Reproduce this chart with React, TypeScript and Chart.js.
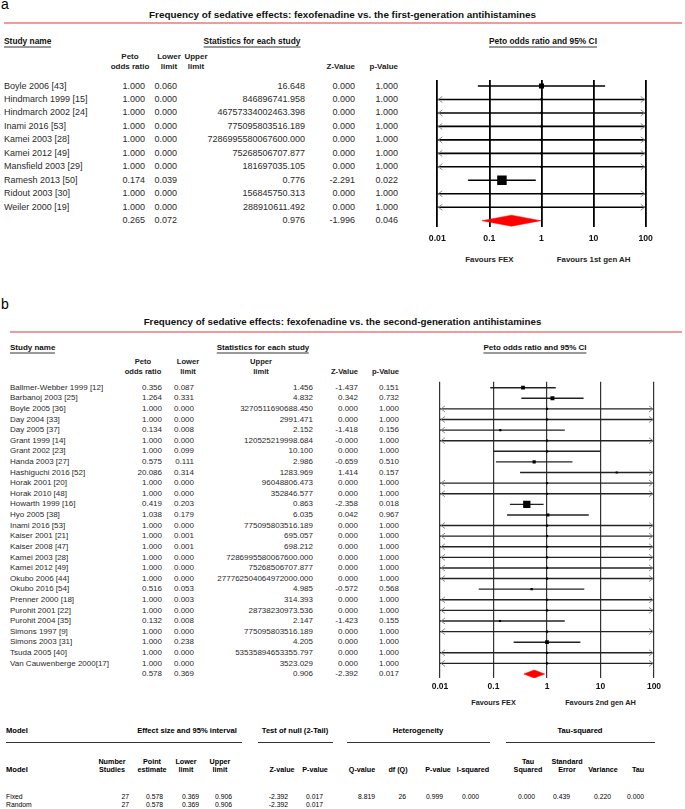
import React, { useEffect, useRef } from "react";
import { Chart, registerables } from "chart.js";

Chart.register(...registerables);

const SANS = "'Liberation Sans', Arial, Helvetica, sans-serif";
const NARROW = "'Liberation Sans Narrow', 'Arial Narrow', 'Liberation Sans', sans-serif";

const AXIS_MIN = 0.01;
const AXIS_MAX = 100;
const AXIS_TICKS = [0.01, 0.1, 1, 10, 100];

// ---------------- Panel a ----------------
const titleA = "Frequency of sedative effects: fexofenadine vs. the first-generation antihistamines";
const studiesA = [
  "Boyle 2006 [43]", "Hindmarch 1999 [15]", "Hindmarch 2002 [24]", "Inami 2016 [53]", "Kamei 2003 [28]",
  "Kamei 2012 [49]", "Mansfield 2003 [29]", "Ramesh 2013 [50]", "Ridout 2003 [30]", "Weiler 2000 [19]",
];
const oddsA = ["1.000", "1.000", "1.000", "1.000", "1.000", "1.000", "1.000", "0.174", "1.000", "1.000"];
const lowerA = ["0.060", "0.000", "0.000", "0.000", "0.000", "0.000", "0.000", "0.039", "0.000", "0.000"];
const upperA = [
  "16.648", "846896741.958", "46757334002463.398", "775095803516.189", "7286995580067600.000",
  "75268506707.877", "181697035.105", "0.776", "156845750.313", "288910611.492",
];
const zA = ["0.000", "0.000", "0.000", "0.000", "0.000", "0.000", "0.000", "-2.291", "0.000", "0.000"];
const pA = ["1.000", "1.000", "1.000", "1.000", "1.000", "1.000", "1.000", "0.022", "1.000", "1.000"];
const summaryA = ["0.265", "0.072", "0.976", "-1.996", "0.046"];
const favoursA = ["Favours FEX", "Favours 1st gen AH"];

// ---------------- Panel b ----------------
const titleB = "Frequency of sedative effects: fexofenadine vs. the second-generation antihistamines";
const studiesB = [
  "Ballmer-Webber 1999 [12]", "Barbanoj 2003 [25]", "Boyle 2005 [36]", "Day 2004 [33]", "Day 2005 [37]",
  "Grant 1999 [14]", "Grant 2002 [23]", "Handa 2003 [27]", "Hashiguchi 2016 [52]", "Horak 2001 [20]",
  "Horak 2010 [48]", "Howarth 1999 [16]", "Hyo 2005 [38]", "Inami 2016 [53]", "Kaiser 2001 [21]",
  "Kaiser 2008 [47]", "Kamei 2003 [28]", "Kamei 2012 [49]", "Okubo 2006 [44]", "Okubo 2016 [54]",
  "Prenner 2000 [18]", "Purohit 2001 [22]", "Purohit 2004 [35]", "Simons 1997 [9]", "Simons 2003 [31]",
  "Tsuda 2005 [40]", "Van Cauwenberge 2000[17]",
];
const oddsB = [
  "0.356", "1.264", "1.000", "1.000", "0.134", "1.000", "1.000", "0.575", "20.086", "1.000",
  "1.000", "0.419", "1.038", "1.000", "1.000", "1.000", "1.000", "1.000", "1.000", "0.516",
  "1.000", "1.000", "0.132", "1.000", "1.000", "1.000", "1.000",
];
const lowerB = [
  "0.087", "0.331", "0.000", "0.000", "0.008", "0.000", "0.099", "0.111", "0.314", "0.000",
  "0.000", "0.203", "0.179", "0.000", "0.001", "0.001", "0.000", "0.000", "0.000", "0.053",
  "0.003", "0.000", "0.008", "0.000", "0.238", "0.000", "0.000",
];
const upperB = [
  "1.456", "4.832", "3270511690688.450", "2991.471", "2.152", "120525219998.684", "10.100", "2.986",
  "1283.969", "96048806.473", "352846.577", "0.863", "6.035", "775095803516.189", "695.057", "698.212",
  "7286995580067600.000", "75268506707.877", "277762504064972000.000", "4.985", "314.393",
  "28738230973.536", "2.147", "775095803516.189", "4.205", "53535894653355.797", "3523.029",
];
const zB = [
  "-1.437", "0.342", "0.000", "0.000", "-1.418", "-0.000", "0.000", "-0.659", "1.414", "0.000",
  "0.000", "-2.358", "0.042", "0.000", "0.000", "0.000", "0.000", "0.000", "0.000", "-0.572",
  "0.000", "0.000", "-1.423", "0.000", "0.000", "0.000", "0.000",
];
const pB = [
  "0.151", "0.732", "1.000", "1.000", "0.156", "1.000", "1.000", "0.510", "0.157", "1.000",
  "1.000", "0.018", "0.967", "1.000", "1.000", "1.000", "1.000", "1.000", "1.000", "0.568",
  "1.000", "1.000", "0.155", "1.000", "1.000", "1.000", "1.000",
];
const summaryB = ["0.578", "0.369", "0.906", "-2.392", "0.017"];
const favoursB = ["Favours FEX", "Favours 2nd gen AH"];

const colHeads1 = ["Peto", "Lower", "Upper", "", ""];
const colHeads2 = ["odds ratio", "limit", "limit", "Z-Value", "p-Value"];

// ---------------- Bottom model table ----------------
const groupHeads = ["Effect size and 95% interval", "Test of null (2-Tail)", "Heterogeneity", "Tau-squared"];
const modelHead1 = ["Number", "Point", "Lower", "Upper", "", "", "", "", "", "", "Tau", "Standard", "", ""];
const modelHead2 = [
  "Studies", "estimate", "limit", "limit", "Z-value", "P-value", "Q-value", "df (Q)", "P-value", "I-squared",
  "Squared", "Error", "Variance", "Tau",
];
const modelNames = ["Fixed", "Random"];
const fixedRow = ["27", "0.578", "0.369", "0.906", "-2.392", "0.017", "8.819", "26", "0.999", "0.000", "0.000", "0.439", "0.220", "0.000"];
const randomRow = ["27", "0.578", "0.369", "0.906", "-2.392", "0.017"];

// ---------------- layout ----------------
const LA = {
  row0: 86, step: 13.47, nameX: 4, size: 9, headSize: 8,
  right: [145, 177, 305, 355, 398], headCenter: [130, 169, 196, 0, 0],
  head1Y: 56.5, head2Y: 66.5,
  chart: { left: 412, top: 70, width: 260, height: 182, padLeft: 25.3, padRight: 26.3, padTop: 10, axisH: 25, tickPad: 6 },
  yMin: -0.4454, yMax: 10.468,
  favY: 260,
};
const LB = {
  row0: 387.7, step: 10.615, nameX: 10, size: 8, headSize: 7.6,
  right: [162, 194, 313, 358, 399], headCenter: [143, 188, 261, 0, 0],
  head1Y: 362, head2Y: 372,
  chart: { left: 415, top: 372, width: 265, height: 328.3, padLeft: 25, padRight: 26, padTop: 9.7, axisH: 22, tickPad: 3.5 },
  yMin: -0.565, yMax: 27.377,
  favY: 703,
};

function Txt(props: {
  x: number; y: number; s: string; size: number; bold?: boolean; align?: "left" | "right" | "center";
  family?: string; color?: string; underline?: boolean;
}) {
  const { x, y, s, size, bold, align = "left", family = SANS, color = "#2a2a2a", underline } = props;
  const tx = align === "left" ? "0" : align === "right" ? "-100%" : "-50%";
  return (
    <div
      style={{
        position: "absolute", left: x, top: y - size / 2, fontSize: size, lineHeight: `${size}px`,
        fontFamily: family, fontWeight: bold ? 700 : 400, color, whiteSpace: "nowrap",
        transform: `translateX(${tx})`,
        borderBottom: underline ? "2px solid #9a9a9a" : undefined,
      }}
    >
      {s}
    </div>
  );
}

function invVarWeight(lo: number, hi: number) {
  if (!(lo > 0) || !(hi > 0)) return 0;
  const se = Math.log(hi / lo) / 3.92;
  return 1 / (se * se);
}

function ForestChart(p: {
  geo: { left: number; top: number; width: number; height: number; padLeft: number; padRight: number; padTop: number; axisH: number; tickPad: number };
  yMin: number; yMax: number;
  est: number[]; lo: number[]; hi: number[]; summary: number[];
  gridColor: string; gridWidth: number; lineColor: string; lineWidth: number;
  maxBox: number; minBox: number; diamondHalf: number; tickSize: number;
}) {
  const ref = useRef<HTMLCanvasElement>(null);
  useEffect(() => {
    const canvas = ref.current;
    if (!canvas) return;
    const n = p.est.length;
    const weights = p.est.map((_, i) => invVarWeight(p.lo[i], p.hi[i]));
    const wMax = Math.max(...weights);
    const clampLo = (v: number) => Math.max(v, AXIS_MIN);
    const clampHi = (v: number) => Math.min(v, AXIS_MAX);

    const ciSets = p.est.map((_, i) => ({
      type: "scatter",
      data: [{ x: clampLo(p.lo[i]), y: i }, { x: clampHi(p.hi[i]), y: i }],
      showLine: true, borderColor: p.lineColor, borderWidth: p.lineWidth,
      pointRadius: 0, pointHoverRadius: 0, fill: false, order: 3,
    }));
    const boxSet = {
      type: "scatter",
      data: p.est.map((e, i) => ({ x: e, y: i })),
      pointStyle: "rect",
      pointRadius: weights.map((w) => Math.max(p.minBox, p.maxBox * Math.sqrt(w / wMax)) / Math.SQRT2),
      pointHoverRadius: 0,
      backgroundColor: "#000", borderColor: "#000", borderWidth: 0, order: 1,
    };
    const [se, sl, sh] = p.summary;
    const h = p.diamondHalf;
    const diamond = {
      type: "scatter", showLine: true, fill: "shape",
      data: [{ x: sl, y: n }, { x: se, y: n - h }, { x: sh, y: n }, { x: se, y: n + h }, { x: sl, y: n }],
      borderColor: "#ff0000", backgroundColor: "#ff0000", borderWidth: 0.5, pointRadius: 0, order: 2,
    };

    const arrowPlugin = {
      id: "ciArrows",
      afterDatasetsDraw(chart: any) {
        const { ctx, scales } = chart;
        const xs = scales.x, ys = scales.y;
        ctx.save();
        ctx.strokeStyle = "#8a8a8a";
        ctx.lineWidth = 1;
        for (let i = 0; i < n; i++) {
          const py = ys.getPixelForValue(i);
          if (p.lo[i] < AXIS_MIN) {
            const px = xs.getPixelForValue(AXIS_MIN);
            ctx.beginPath(); ctx.moveTo(px + 5, py - 3); ctx.lineTo(px + 1, py); ctx.lineTo(px + 5, py + 3); ctx.stroke();
          }
          if (p.hi[i] > AXIS_MAX) {
            const px = xs.getPixelForValue(AXIS_MAX);
            ctx.beginPath(); ctx.moveTo(px - 5, py - 3); ctx.lineTo(px - 1, py); ctx.lineTo(px - 5, py + 3); ctx.stroke();
          }
        }
        ctx.restore();
      },
    };

    const chart = new Chart(canvas, {
      type: "scatter",
      data: { datasets: [...ciSets, boxSet, diamond] as any },
      options: {
        animation: false, responsive: false, devicePixelRatio: 1, events: [],
        layout: { padding: { left: p.geo.padLeft, right: p.geo.padRight, top: p.geo.padTop, bottom: 0 } },
        plugins: { legend: { display: false }, tooltip: { enabled: false } },
        scales: {
          x: {
            type: "logarithmic", min: AXIS_MIN, max: AXIS_MAX,
            afterBuildTicks: (scale: any) => { scale.ticks = AXIS_TICKS.map((v) => ({ value: v })); },
            afterFit: (scale: any) => { scale.height = p.geo.axisH; },
            ticks: {
              autoSkip: false, maxRotation: 0, padding: p.geo.tickPad, color: "#111",
              font: { family: SANS, size: p.tickSize, weight: "bold" },
              callback: (v: any) => String(v),
            },
            grid: { color: p.gridColor, lineWidth: p.gridWidth, drawTicks: false, drawOnChartArea: true },
            border: { display: false },
          },
          y: { type: "linear", reverse: true, min: p.yMin, max: p.yMax, display: false },
        },
      } as any,
      plugins: [arrowPlugin],
    });
    return () => chart.destroy();
  }, []);
  return (
    <canvas
      ref={ref}
      width={p.geo.width}
      height={p.geo.height}
      style={{ position: "absolute", left: p.geo.left, top: p.geo.top, width: p.geo.width, height: p.geo.height }}
    />
  );
}

function favX(geo: { left: number; width: number; padLeft: number; padRight: number }, v: number) {
  const l = geo.left + geo.padLeft;
  const r = geo.left + geo.width - geo.padRight;
  return l + ((Math.log10(v) - Math.log10(AXIS_MIN)) / (Math.log10(AXIS_MAX) - Math.log10(AXIS_MIN))) * (r - l);
}

function Panel(props: {
  L: typeof LA; title: string; titleY: number; titleSize: number; label: string; labelY: number; lineY: number; lineX: number;
  headY: number; statsCenter: number; petoCenter: number;
  studies: string[]; cols: string[][]; summary: string[]; favours: string[];
  gridColor: string; gridWidth: number; lineColor: string; lineWidth: number; maxBox: number; diamondHalf: number; tickSize: number; favSize: number;
}) {
  const { L } = props;
  const n = props.studies.length;
  const els: any[] = [];
  els.push(<Txt key="lbl" x={1} y={props.labelY} s={props.label} size={14} color="#000" />);
  els.push(<Txt key="ttl" x={342.5} y={props.titleY} s={props.title} size={props.titleSize} bold align="center" color="#111" />);
  els.push(
    <div key="red" style={{ position: "absolute", left: props.lineX, top: props.lineY - 1, width: 682 - props.lineX, height: 2, background: "#f29a9a" }} />
  );
  els.push(<Txt key="h1" x={L.nameX} y={props.headY} s="Study name" size={L.headSize + 0.4} bold underline color="#111" />);
  els.push(<Txt key="h2" x={props.statsCenter} y={props.headY} s="Statistics for each study" size={L.headSize + 0.4} bold underline align="center" color="#111" />);
  els.push(<Txt key="h3" x={props.petoCenter} y={props.headY} s="Peto odds ratio and 95% CI" size={L.headSize + 0.4} bold underline align="center" color="#111" />);
  for (let c = 0; c < 5; c++) {
    if (colHeads1[c]) {
      els.push(<Txt key={"ch1" + c} x={L.headCenter[c]} y={L.head1Y} s={colHeads1[c]} size={L.headSize} bold align="center" color="#222" />);
      els.push(<Txt key={"ch2" + c} x={L.headCenter[c]} y={L.head2Y} s={colHeads2[c]} size={L.headSize} bold align="center" color="#222" />);
    } else {
      els.push(<Txt key={"ch2" + c} x={L.right[c]} y={L.head2Y} s={colHeads2[c]} size={L.headSize} bold align="right" color="#222" />);
    }
  }
  for (let i = 0; i <= n; i++) {
    const y = L.row0 + i * L.step;
    if (i < n) els.push(<Txt key={"n" + i} x={L.nameX} y={y} s={props.studies[i]} size={L.size} />);
    for (let c = 0; c < 5; c++) {
      const s = i < n ? props.cols[c][i] : props.summary[c];
      els.push(<Txt key={"v" + i + "_" + c} x={L.right[c]} y={y} s={s} size={L.size} align="right" />);
    }
  }
  const g = L.chart;
  els.push(<Txt key="f1" x={favX(g, 0.1)} y={L.favY} s={props.favours[0]} size={props.favSize} bold align="center" color="#222" />);
  els.push(<Txt key="f2" x={favX(g, 10)} y={L.favY} s={props.favours[1]} size={props.favSize} bold align="center" color="#222" />);
  els.push(
    <ForestChart
      key="chart"
      geo={g}
      yMin={L.yMin}
      yMax={L.yMax}
      est={props.cols[0].map(Number)}
      lo={props.cols[1].map(Number)}
      hi={props.cols[2].map(Number)}
      summary={props.summary.slice(0, 3).map(Number)}
      gridColor={props.gridColor}
      gridWidth={props.gridWidth}
      lineColor={props.lineColor}
      lineWidth={props.lineWidth}
      maxBox={props.maxBox}
      minBox={2.2}
      diamondHalf={props.diamondHalf}
      tickSize={props.tickSize}
    />
  );
  return <>{els}</>;
}

function ModelTable() {
  const els: any[] = [];
  const hy1 = 731, uy = 742, h2a = 762, h2b = 770, r1 = 797, r2 = 805;
  const centers = [112, 152, 186, 220, 282, 315, 362, 398, 438, 473, 528, 567, 603, 638];
  const rights = [129, 163, 199, 232, 288, 323, 375, 406, 443, 479, 535, 570, 611, 644];
  const groupCenters = [187, 295, 418, 580];
  const rules = [[6, 242], [258, 333], [347, 490], [506, 655]];
  const HS = 7.6, VS = 6.8;
  els.push(<Txt key="m1" x={6} y={hy1} s="Model" size={HS} bold family={NARROW} color="#000" />);
  groupHeads.forEach((g, i) =>
    els.push(<Txt key={"g" + i} x={groupCenters[i]} y={hy1} s={g} size={HS} bold family={NARROW} align="center" color="#000" />)
  );
  rules.forEach(([a, b], i) =>
    els.push(<div key={"r" + i} style={{ position: "absolute", left: a, top: uy, width: b - a, height: 1, background: "#333" }} />)
  );
  els.push(<Txt key="m2" x={6} y={h2b} s="Model" size={HS} bold family={NARROW} color="#000" />);
  modelHead2.forEach((h, i) => {
    if (modelHead1[i]) els.push(<Txt key={"mh1" + i} x={centers[i]} y={h2a} s={modelHead1[i]} size={HS - 0.4} bold family={NARROW} align="center" color="#000" />);
    els.push(<Txt key={"mh2" + i} x={centers[i]} y={h2b} s={h} size={HS - 0.4} bold family={NARROW} align="center" color="#000" />);
  });
  [fixedRow, randomRow].forEach((row, ri) => {
    const y = ri === 0 ? r1 : r2;
    els.push(<Txt key={"mn" + ri} x={6} y={y} s={modelNames[ri]} size={VS} family={NARROW} color="#000" />);
    row.forEach((v, ci) =>
      els.push(<Txt key={"mv" + ri + "_" + ci} x={rights[ci]} y={y} s={v} size={VS} family={NARROW} align="right" color="#000" />)
    );
  });
  return <>{els}</>;
}

export default function App() {
  return (
    <div style={{ position: "absolute", left: 0, top: 0, width: 685, height: 809, overflow: "hidden", background: "#fff" }}>
      <Panel
        L={LA} title={titleA} titleY={15} titleSize={9.9} label="a" labelY={3.6} lineY={23} lineX={4}
        headY={41.5} statsCenter={252} petoCenter={543}
        studies={studiesA} cols={[oddsA, lowerA, upperA, zA, pA]} summary={summaryA} favours={favoursA}
        gridColor="#000" gridWidth={1.8} lineColor="#000" lineWidth={1.6} maxBox={9.5} diamondHalf={0.41}
        tickSize={8.7} favSize={7.9}
      />
      <Panel
        L={LB as any} title={titleB} titleY={322} titleSize={9.75} label="b" labelY={304} lineY={332} lineX={10}
        headY={348} statsCenter={263} petoCenter={535}
        studies={studiesB} cols={[oddsB, lowerB, upperB, zB, pB]} summary={summaryB} favours={favoursB}
        gridColor="#333" gridWidth={1.2} lineColor="#222" lineWidth={1.4} maxBox={7.3} diamondHalf={0.38}
        tickSize={8.5} favSize={7.3}
      />
      <ModelTable />
    </div>
  );
}
